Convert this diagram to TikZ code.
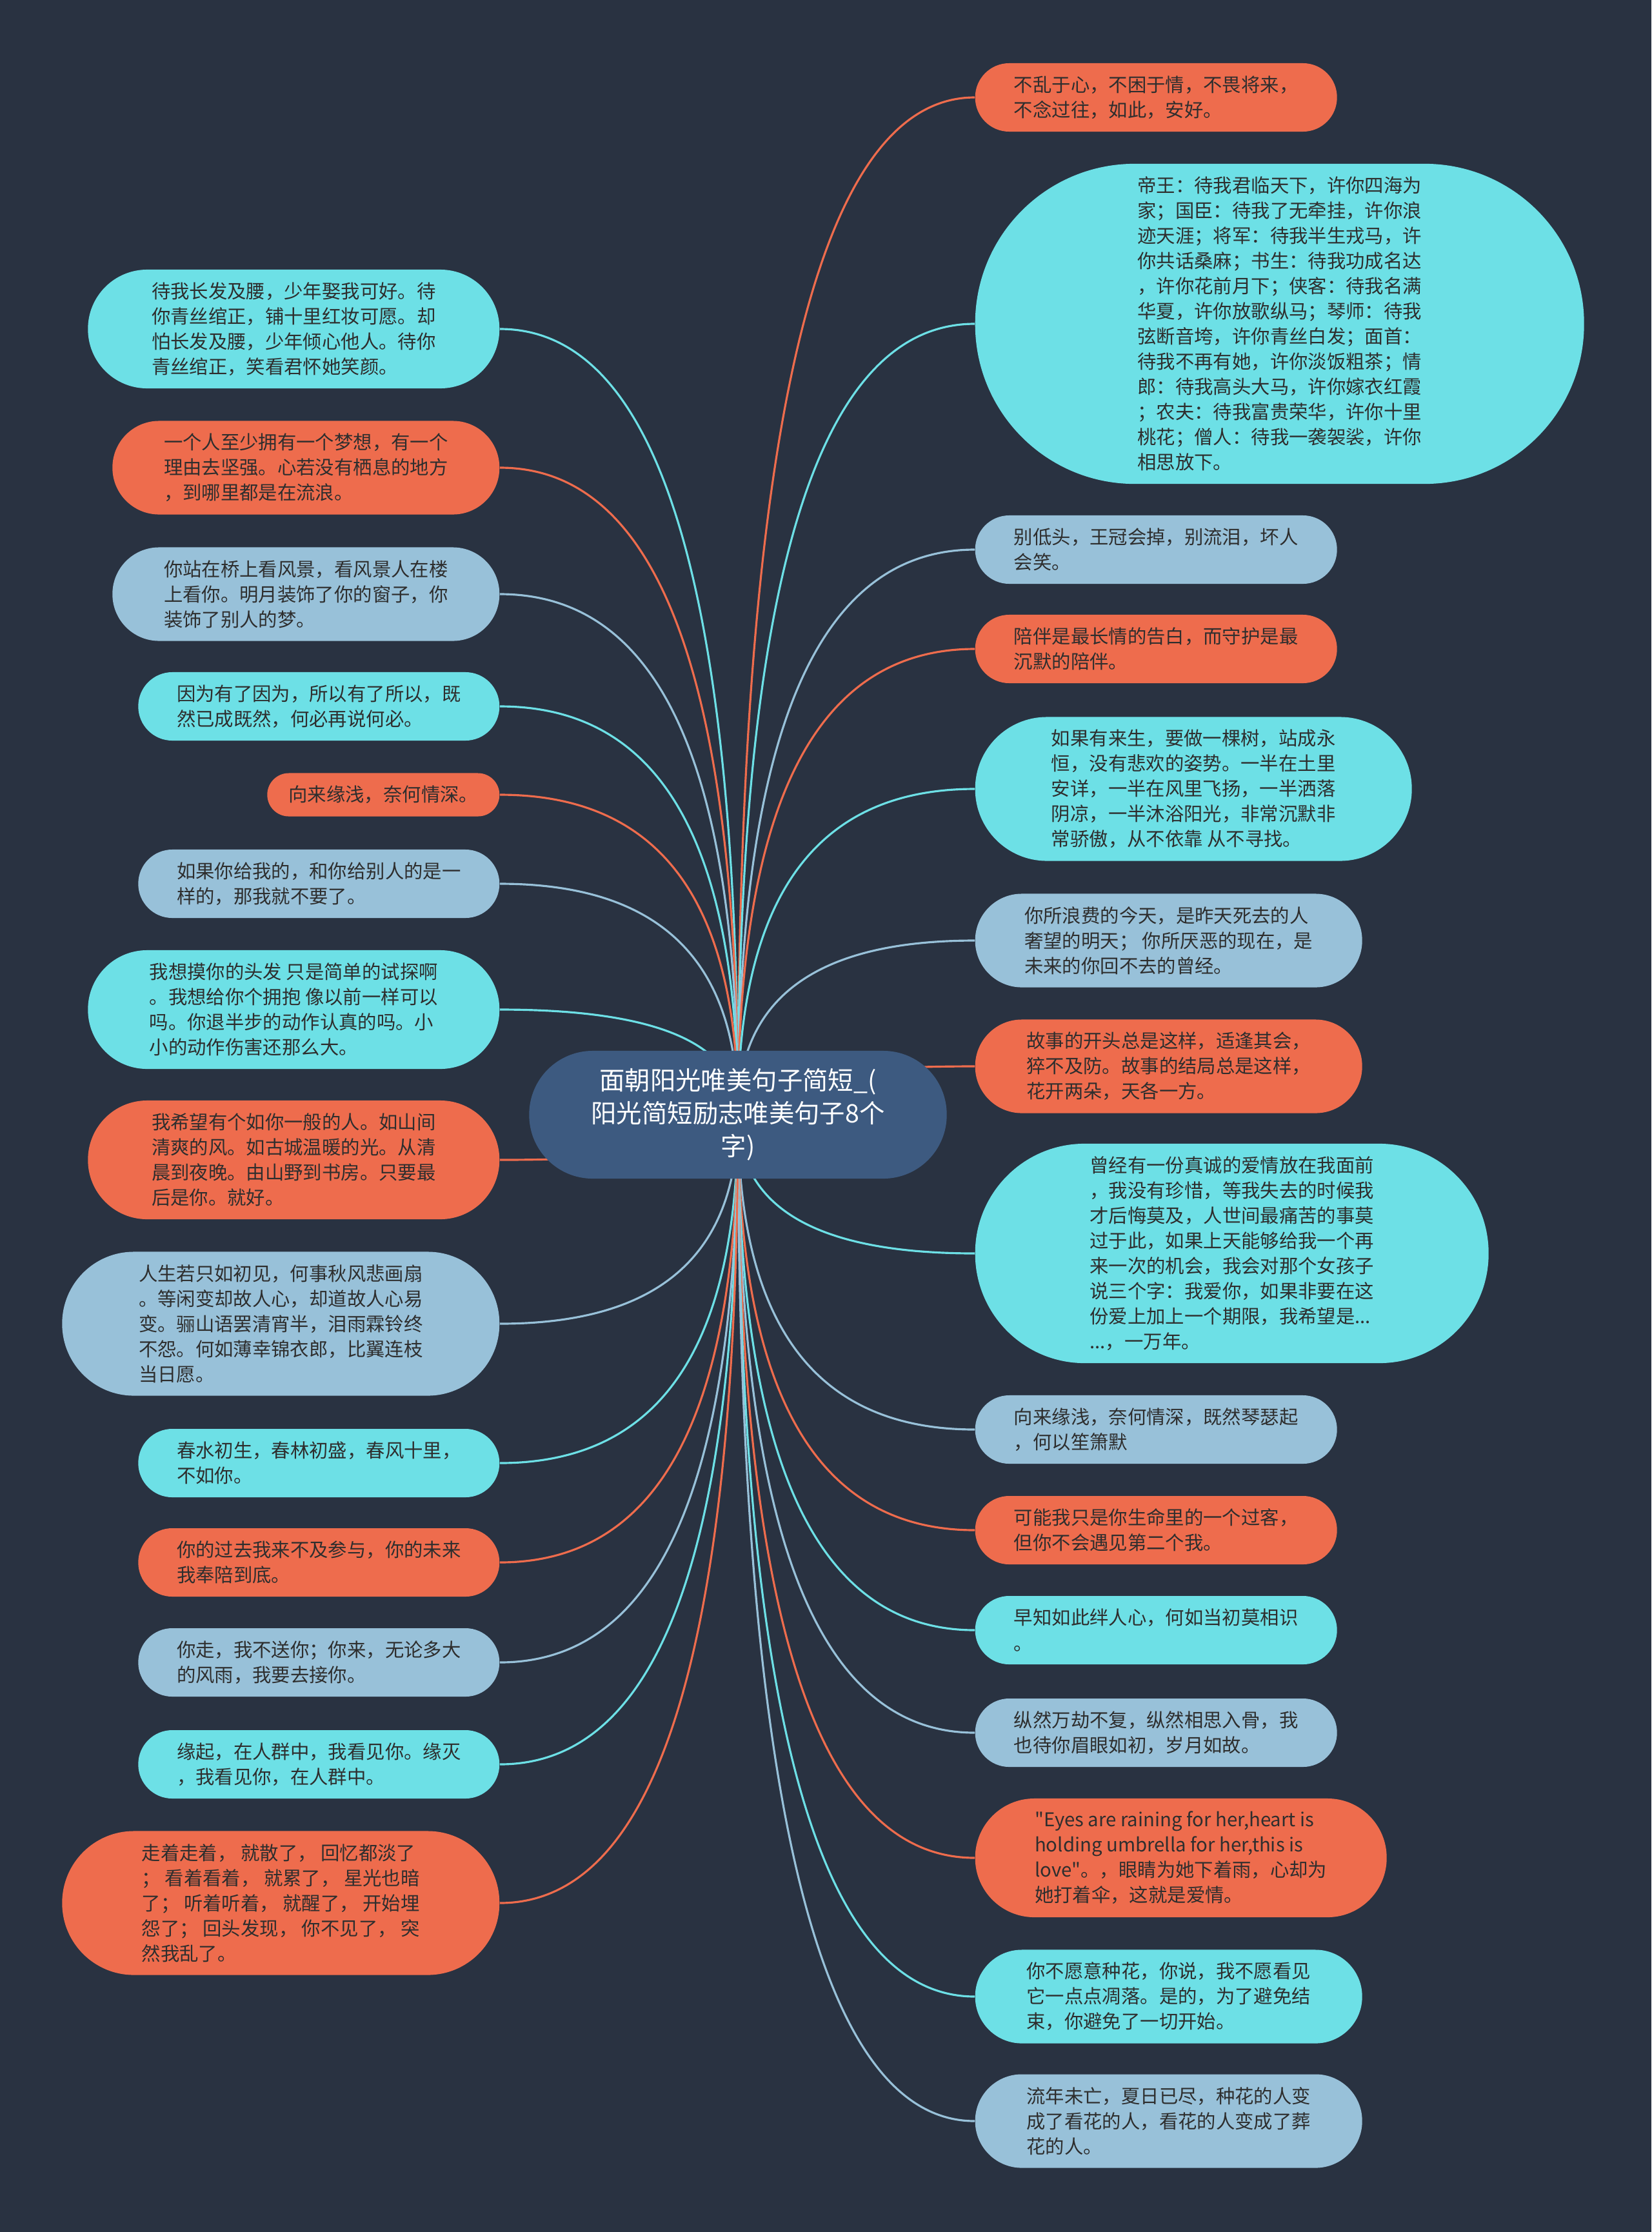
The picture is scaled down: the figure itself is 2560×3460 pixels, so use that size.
\documentclass[tikz,border=0pt]{standalone}
\usepackage{fontspec}
\setmainfont{Noto Sans CJK SC}[Ligatures=TeXOff]
\usetikzlibrary{calc}

\definecolor{pagebg}{HTML}{293241}
\definecolor{rootblue}{HTML}{3D5A80}
\definecolor{coral}{HTML}{EE6C4D}
\definecolor{aqua}{HTML}{6DE0E6}
\definecolor{sky}{HTML}{98C1D9}
\definecolor{ink}{HTML}{2E2E2E}

\pgfdeclarelayer{ground}
\pgfdeclarelayer{links}
\pgfsetlayers{ground,links,main}

\begin{document}
\begin{tikzpicture}[
    x=0.01cm, y=-0.01cm,
    leaf/.style={
      rectangle, fill=#1, text=ink, inner sep=0pt,
      align=left, font=\fontsize{8.35pt}{11.1pt}\selectfont
    },
    pill/.style 2 args={
      minimum width=#1*0.01cm, minimum height=0.39cm*#2+0.28cm,
      rounded corners=0.1945cm*#2+0.139cm
    },
    link/.style={draw=#1, line width=0.9pt}
  ]
  \begin{pgfonlayer}{ground}
    \fill[pagebg] (0,0) rectangle (2560,3460);
  \end{pgfonlayer}
  \useasboundingbox (0,0) rectangle (2560,3460);

  % root
  \node[rectangle, fill=rootblue, text=white, align=center, inner sep=0pt,
        minimum width=6.47cm, minimum height=1.98cm, rounded corners=0.985cm,
        font=\fontsize{11.2pt}{14.5pt}\selectfont] (root) at (1144,1728)
    {面朝阳光唯美句子简短\_(\\阳光简短励志唯美句子8个\\字)};

  % right side
  \node[leaf=coral, pill={561}{2}, anchor=west] (r1) at (1511,151)
    {不乱于心，不困于情，不畏将来，\\不念过往，如此，安好。};
  \node[leaf=aqua, pill={944}{12}, anchor=west] (r2) at (1511,502)
    {帝王：待我君临天下，许你四海为\\家；国臣：待我了无牵挂，许你浪\\迹天涯；将军：待我半生戎马，许\\你共话桑麻；书生：待我功成名达\\，许你花前月下；侠客：待我名满\\华夏，许你放歌纵马；琴师：待我\\弦断音垮，许你青丝白发；面首：\\待我不再有她，许你淡饭粗茶；情\\郎：待我高头大马，许你嫁衣红霞\\；农夫：待我富贵荣华，许你十里\\桃花；僧人：待我一袭袈裟，许你\\相思放下。};
  \node[leaf=sky, pill={561}{2}, anchor=west] (r3) at (1511,852)
    {别低头，王冠会掉，别流泪，坏人\\会笑。};
  \node[leaf=coral, pill={561}{2}, anchor=west] (r4) at (1511,1006)
    {陪伴是最长情的告白，而守护是最\\沉默的陪伴。};
  \node[leaf=aqua, pill={677}{5}, anchor=west] (r5) at (1511,1223)
    {如果有来生，要做一棵树，站成永\\恒，没有悲欢的姿势。一半在土里\\安详，一半在风里飞扬，一半洒落\\阴凉，一半沐浴阳光，非常沉默非\\常骄傲，从不依靠 从不寻找。};
  \node[leaf=sky, pill={600}{3}, anchor=west] (r6) at (1511,1458)
    {你所浪费的今天，是昨天死去的人\\奢望的明天； 你所厌恶的现在，是\\未来的你回不去的曾经。};
  \node[leaf=coral, pill={600}{3}, anchor=west] (r7) at (1511,1653)
    {故事的开头总是这样，适逢其会，\\猝不及防。故事的结局总是这样，\\花开两朵，天各一方。};
  \node[leaf=aqua, pill={796}{8}, anchor=west] (r8) at (1511,1943)
    {曾经有一份真诚的爱情放在我面前\\，我没有珍惜，等我失去的时候我\\才后悔莫及，人世间最痛苦的事莫\\过于此，如果上天能够给我一个再\\来一次的机会，我会对那个女孩子\\说三个字：我爱你，如果非要在这\\份爱上加上一个期限，我希望是...\\...，一万年。};
  \node[leaf=sky, pill={561}{2}, anchor=west] (r9) at (1511,2216)
    {向来缘浅，奈何情深，既然琴瑟起\\，何以笙箫默};
  \node[leaf=coral, pill={561}{2}, anchor=west] (r10) at (1511,2372)
    {可能我只是你生命里的一个过客，\\但你不会遇见第二个我。};
  \node[leaf=aqua, pill={561}{2}, anchor=west] (r11) at (1511,2527)
    {早知如此绊人心，何如当初莫相识\\。};
  \node[leaf=sky, pill={561}{2}, anchor=west] (r12) at (1511,2686)
    {纵然万劫不复，纵然相思入骨，我\\也待你眉眼如初，岁月如故。};
  \node[leaf=coral, pill={638}{4}, anchor=west] (r13) at (1511,2880)
    {"Eyes are raining for her,heart is\\holding umbrella for her,this is\\love"。，眼睛为她下着雨，心却为\\她打着伞，这就是爱情。};
  \node[leaf=aqua, pill={600}{3}, anchor=west] (r14) at (1511,3095)
    {你不愿意种花，你说，我不愿看见\\它一点点凋落。是的，为了避免结\\束，你避免了一切开始。};
  \node[leaf=sky, pill={600}{3}, anchor=west] (r15) at (1511,3288)
    {流年未亡，夏日已尽，种花的人变\\成了看花的人，看花的人变成了葬\\花的人。};

  % left side
  \node[leaf=aqua, pill={638}{4}, anchor=east] (l1) at (775,510)
    {待我长发及腰，少年娶我可好。待\\你青丝绾正，铺十里红妆可愿。却\\怕长发及腰，少年倾心他人。待你\\青丝绾正，笑看君怀她笑颜。};
  \node[leaf=coral, pill={600}{3}, anchor=east] (l2) at (775,725)
    {一个人至少拥有一个梦想，有一个\\理由去坚强。心若没有栖息的地方\\，到哪里都是在流浪。};
  \node[leaf=sky, pill={600}{3}, anchor=east] (l3) at (775,921)
    {你站在桥上看风景，看风景人在楼\\上看你。明月装饰了你的窗子，你\\装饰了别人的梦。};
  \node[leaf=aqua, pill={560}{2}, anchor=east] (l4) at (775,1095)
    {因为有了因为，所以有了所以，既\\然已成既然，何必再说何必。};
  \node[leaf=coral, pill={360}{1}, anchor=east] (l5) at (775,1232)
    {向来缘浅，奈何情深。};
  \node[leaf=sky, pill={560}{2}, anchor=east] (l6) at (775,1370)
    {如果你给我的，和你给别人的是一\\样的，那我就不要了。};
  \node[leaf=aqua, pill={638}{4}, anchor=east] (l7) at (775,1565)
    {我想摸你的头发 只是简单的试探啊\\。我想给你个拥抱 像以前一样可以\\吗。你退半步的动作认真的吗。小\\小的动作伤害还那么大。};
  \node[leaf=coral, pill={638}{4}, anchor=east] (l8) at (775,1798)
    {我希望有个如你一般的人。如山间\\清爽的风。如古城温暖的光。从清\\晨到夜晚。由山野到书房。只要最\\后是你。就好。};
  \node[leaf=sky, pill={678}{5}, anchor=east] (l9) at (775,2052)
    {人生若只如初见，何事秋风悲画扇\\。等闲变却故人心，却道故人心易\\变。骊山语罢清宵半，泪雨霖铃终\\不怨。何如薄幸锦衣郎，比翼连枝\\当日愿。};
  \node[leaf=aqua, pill={560}{2}, anchor=east] (l10) at (775,2268)
    {春水初生，春林初盛，春风十里，\\不如你。};
  \node[leaf=coral, pill={560}{2}, anchor=east] (l11) at (775,2422)
    {你的过去我来不及参与，你的未来\\我奉陪到底。};
  \node[leaf=sky, pill={560}{2}, anchor=east] (l12) at (775,2577)
    {你走，我不送你；你来，无论多大\\的风雨，我要去接你。};
  \node[leaf=aqua, pill={560}{2}, anchor=east] (l13) at (775,2735)
    {缘起，在人群中，我看见你。缘灭\\，我看见你，在人群中。};
  \node[leaf=coral, pill={678}{5}, anchor=east] (l14) at (775,2950)
    {走着走着， 就散了， 回忆都淡了\\； 看着看着， 就累了， 星光也暗\\了； 听着听着， 就醒了， 开始埋\\怨了； 回头发现， 你不见了， 突\\然我乱了。};

  % curved links, behind the nodes
  \begin{pgfonlayer}{links}
    \foreach \n/\c in {r1/coral, r2/aqua, r3/sky, r4/coral, r5/aqua,
        r6/sky, r7/coral, r8/aqua, r9/sky, r10/coral, r11/aqua,
        r12/sky, r13/coral, r14/aqua, r15/sky}
      \draw[link=\c] (root.center)
        .. controls ($(root.center)!0.67!(root.center |- \n.west)$)
        and ($(\n.west)!0.67!(root.center |- \n.west)$) .. (\n.west);
    \foreach \n/\c in {l1/aqua, l2/coral, l3/sky, l4/aqua, l5/coral,
        l6/sky, l7/aqua, l8/coral, l9/sky, l10/aqua, l11/coral,
        l12/sky, l13/aqua, l14/coral}
      \draw[link=\c] (root.center)
        .. controls ($(root.center)!0.67!(root.center |- \n.east)$)
        and ($(\n.east)!0.67!(root.center |- \n.east)$) .. (\n.east);
  \end{pgfonlayer}
\end{tikzpicture}
\end{document}
